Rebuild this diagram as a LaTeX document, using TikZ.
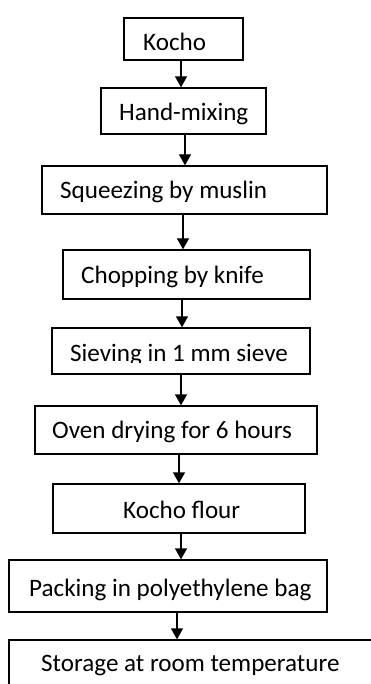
\documentclass[tikz,border=0pt]{standalone}
\usepackage{fontspec}
\setmainfont{Carlito}
\usetikzlibrary{arrows.meta}
\begin{document}
\begin{tikzpicture}[x=1pt,y=-1pt,
  box/.style={draw=black, line width=1.4pt, rectangle, inner sep=0pt},
  lbl/.style={inner sep=0pt, font=\fontsize{25.1}{30}\selectfont},
  arr/.style={line width=1.4pt, -{Triangle[width=12pt,length=11pt]}}]
\useasboundingbox (0,0) rectangle (371,684);
% boxes: centre x, centre y, width, height
\node[box, minimum width=119pt, minimum height=42pt] (b1) at (183.5,39) {};
\node[box, minimum width=165pt, minimum height=46pt] (b2) at (183.5,111) {};
\node[box, minimum width=285pt, minimum height=48pt] (b3) at (184.5,190) {};
\node[box, minimum width=247pt, minimum height=49pt] (b4) at (186.5,274.5) {};
\node[box, minimum width=258pt, minimum height=46pt] (b5) at (181,351) {};
\node[box, minimum width=282pt, minimum height=48pt] (b6) at (176,430) {};
\node[box, minimum width=252pt, minimum height=49pt] (b7) at (179,508.5) {};
\node[box, minimum width=318pt, minimum height=52pt] (b8) at (168,586) {};
\node[box, minimum width=380pt, minimum height=80pt] (b9) at (199,680) {};
% labels
\node[lbl, anchor=base west] (t1) at (143,51) {Kocho};
\node[lbl, anchor=base west] (t2) at (119,120.5) {Hand-mixing};
\node[lbl, anchor=base west] (t3) at (60,199) {Squeezing by muslin};
\node[lbl, anchor=base west] (t4) at (81,283.3) {Chopping by knife};
\begin{scope}
\clip (40,320) rectangle (320,362.5);
\node[lbl, anchor=base west] (t5) at (70,361.5) {Sieving in 1 mm sieve};
\end{scope}
\node[lbl, anchor=base west] (t6) at (52,438.3) {Oven drying for 6 hours};
\node[lbl, anchor=base west] (t7) at (123,518.3) {Kocho flour};
\node[lbl, anchor=base west] (t8) at (29,596.7) {Packing in polyethylene bag};
\node[lbl, anchor=base west] (t9) at (41,671.7) {Storage at room temperature};
% connectors
\draw[arr] (181,0 |- b1.south) -- (181,0 |- b2.north);
\draw[arr] (185,0 |- b2.south) -- (185,0 |- b3.north);
\draw[arr] (183,0 |- b3.south) -- (183,0 |- b4.north);
\draw[arr] (182,0 |- b4.south) -- (182,0 |- b5.north);
\draw[arr] (181,0 |- b5.south) -- (181,0 |- b6.north);
\draw[arr] (179,0 |- b6.south) -- (179,0 |- b7.north);
\draw[arr] (181,0 |- b7.south) -- (181,0 |- b8.north);
\draw[arr] (177,0 |- b8.south) -- (177,0 |- b9.north);
\end{tikzpicture}
\end{document}
